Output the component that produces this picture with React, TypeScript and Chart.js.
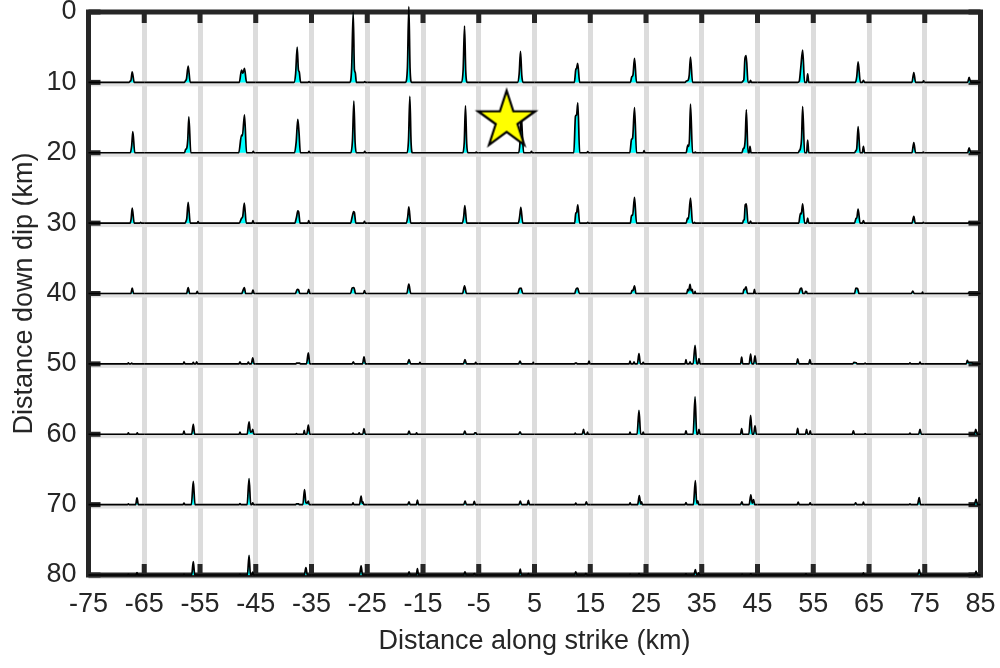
import { useEffect, useRef } from "react";
import { Chart, registerables } from "chart.js";

Chart.register(...registerables);

// Axis ticks (km)
const xTickValues = [-75, -65, -55, -45, -35, -25, -15, -5, 5, 15, 25, 35, 45, 55, 65, 75, 85];
const yTickValues = [0, 10, 20, 30, 40, 50, 60, 70, 80];
// Left edge (km along strike) of each subfault cell, and baseline depth of each row
const cellStartKm = [-75, -65, -55, -45, -35, -25, -15, -5, 5, 15, 25, 35, 45, 55, 65, 75];
const rowBaselineKm = [10, 20, 30, 40, 50, 60, 70, 80];
const hypocenter = [{ x: 0, y: 15 }];

// Source time functions: per cell, vertex list [time offset (km in cell), amplitude (km), ...]
const stfDepth10 = [
  [7.3, 0, 7.5, 0.2, 7.6, 0.25, 7.84, 1.5, 8.2, 0],
  [7.2, 0, 7.45, 0.3, 7.55, 0.4, 7.88, 2.3, 8.25, 0],
  [7.05, 0, 7.45, 1.75, 7.7, 1.3, 7.98, 2.0, 8.35, 0],
  [6.85, 0, 7.15, 1.2, 7.43, 5.0, 7.65, 1.8, 7.8, 1.5, 8.05, 0, 9.4, 0, 9.55, 0.1, 9.7, 0],
  [6.85, 0, 7.2, 2.0, 7.48, 10.0, 7.7, 1.8, 7.85, 1.4, 8.05, 0, 9.4, 0, 9.55, 0.1, 9.7, 0],
  [6.85, 0, 7.2, 2.0, 7.46, 10.75, 7.68, 2.0, 7.95, 0],
  [6.9, 0, 7.2, 1.8, 7.45, 8.0, 7.67, 1.5, 7.95, 0],
  [6.95, 0, 7.25, 1.2, 7.49, 4.4, 7.72, 1.0, 7.95, 0],
  [7.15, 0, 7.4, 1.8, 7.55, 2.0, 7.75, 2.7, 8.1, 0],
  [7.2, 0, 7.45, 0.8, 7.65, 1.0, 7.94, 3.4, 8.3, 0],
  [7.0, 0, 7.25, 0.2, 7.55, 0.3, 7.75, 1.0, 7.98, 3.6, 8.35, 0],
  [7.15, 0, 7.4, 0.2, 7.55, 0.4, 7.75, 3.4, 7.97, 3.8, 8.3, 0, 8.6, 0, 8.75, 0.3, 8.9, 0],
  [7.2, 0, 7.5, 0.2, 7.75, 2.0, 8.1, 4.6, 8.45, 0, 8.8, 0, 9.0, 1.2, 9.2, 0],
  [7.55, 0, 7.8, 0.8, 8.05, 2.9, 8.45, 0, 8.8, 0, 9.0, 0.3, 9.2, 0],
  [7.7, 0, 8.04, 1.4, 8.35, 0, 9.6, 0, 9.8, 0.2, 9.95, 0],
  [7.7, 0, 7.96, 0.7, 8.25, 0],
];
const stfDepth20 = [
  [7.5, 0, 7.75, 1.0, 7.95, 3.0, 8.3, 0],
  [7.2, 0, 7.45, 0.5, 7.6, 0.6, 7.8, 1.8, 8.0, 5.1, 8.35, 0],
  [6.95, 0, 7.45, 2.5, 7.6, 2.4, 7.98, 5.4, 8.35, 0, 9.4, 0, 9.55, 0.2, 9.7, 0],
  [6.95, 0, 7.25, 1.5, 7.54, 4.75, 7.75, 3.0, 8.0, 0, 9.4, 0, 9.55, 0.2, 9.7, 0],
  [7.05, 0, 7.35, 1.8, 7.6, 7.35, 7.82, 1.5, 8.05, 0, 9.4, 0, 9.55, 0.2, 9.7, 0],
  [7.15, 0, 7.4, 1.8, 7.64, 8.0, 7.86, 1.5, 8.1, 0],
  [7.15, 0, 7.4, 1.5, 7.62, 6.65, 7.84, 1.3, 8.05, 0, 9.4, 0, 9.55, 0.1, 9.7, 0],
  [7.15, 0, 7.4, 1.5, 7.6, 5.5, 7.8, 3.0, 8.05, 0, 9.3, 0, 9.45, 0.2, 9.6, 0],
  [7.05, 0, 7.35, 5.2, 7.55, 5.4, 7.77, 7.1, 8.1, 0, 9.4, 0, 9.55, 0.15, 9.7, 0],
  [7.1, 0, 7.4, 1.9, 7.6, 2.1, 7.94, 6.4, 8.3, 0, 9.5, 0, 9.65, 0.3, 9.8, 0],
  [7.2, 0, 7.5, 1.1, 7.65, 0.9, 7.8, 2.0, 7.98, 6.9, 8.35, 0, 8.7, 0, 8.85, 0.1, 9.0, 0],
  [7.2, 0, 7.45, 0.6, 7.6, 0.7, 7.8, 2.0, 8.0, 6.1, 8.3, 0, 8.5, 0, 8.65, 0.9, 8.85, 0],
  [7.3, 0, 7.5, 0.3, 7.7, 0.6, 7.9, 2.0, 8.1, 6.55, 8.45, 0, 8.8, 0, 9.0, 1.8, 9.2, 0],
  [7.4, 0, 7.65, 0.3, 7.8, 0.6, 8.05, 3.7, 8.4, 0, 8.8, 0, 9.0, 0.9, 9.2, 0],
  [7.7, 0, 8.04, 1.45, 8.35, 0, 9.6, 0, 9.75, 0.1, 9.9, 0],
  [7.7, 0, 7.96, 0.7, 8.25, 0],
];
const stfDepth30 = [
  [7.45, 0, 7.65, 0.6, 7.84, 2.15, 8.2, 0, 9.2, 0, 9.35, 0.1, 9.5, 0],
  [7.3, 0, 7.5, 0.3, 7.62, 0.6, 7.88, 2.95, 8.25, 0, 9.5, 0, 9.65, 0.2, 9.8, 0],
  [7.05, 0, 7.45, 0.7, 7.65, 0.9, 7.95, 2.85, 8.3, 0, 9.35, 0, 9.5, 0.35, 9.65, 0],
  [7.0, 0, 7.3, 0.8, 7.55, 1.75, 7.7, 1.6, 7.95, 0, 9.35, 0, 9.5, 0.35, 9.65, 0],
  [7.0, 0, 7.3, 0.9, 7.55, 1.65, 7.7, 1.5, 7.95, 0, 9.35, 0, 9.5, 0.25, 9.65, 0],
  [7.0, 0, 7.25, 0.8, 7.46, 2.3, 7.8, 0, 9.45, 0, 9.55, 0.05, 9.65, 0],
  [7.05, 0, 7.3, 0.9, 7.5, 2.5, 7.85, 0],
  [7.1, 0, 7.35, 1.0, 7.55, 2.25, 7.9, 0],
  [7.2, 0, 7.4, 1.4, 7.55, 1.5, 7.77, 2.6, 8.1, 0, 9.4, 0, 9.55, 0.1, 9.7, 0],
  [7.2, 0, 7.4, 1.1, 7.6, 1.1, 7.94, 3.65, 8.3, 0],
  [7.2, 0, 7.45, 0.7, 7.6, 0.6, 7.98, 3.55, 8.35, 0, 8.6, 0, 8.7, 0.1, 8.85, 0],
  [7.3, 0, 7.5, 0.4, 7.62, 0.5, 7.8, 2.6, 8.0, 2.75, 8.3, 0, 8.6, 0, 8.75, 0.3, 8.9, 0],
  [7.4, 0, 7.7, 1.4, 7.85, 1.3, 8.1, 2.75, 8.45, 0, 8.8, 0, 9.0, 0.7, 9.2, 0],
  [7.4, 0, 7.7, 0.7, 7.8, 0.7, 8.05, 2.0, 8.4, 0, 8.8, 0, 9.0, 0.35, 9.2, 0],
  [7.7, 0, 8.04, 0.95, 8.3, 0, 9.6, 0, 9.75, 0.1, 9.9, 0],
  [7.8, 0, 7.96, 0.15, 8.15, 0],
];
const stfDepth40 = [
  [7.6, 0, 7.84, 0.75, 8.1, 0],
  [7.6, 0, 7.88, 0.85, 8.15, 0, 9.3, 0, 9.5, 0.3, 9.7, 0],
  [7.5, 0, 7.65, 0.3, 7.95, 0.85, 8.2, 0, 9.3, 0, 9.5, 0.5, 9.7, 0],
  [7.1, 0, 7.45, 0.6, 7.7, 0.5, 7.9, 0, 9.25, 0, 9.5, 0.6, 9.7, 0],
  [7.0, 0, 7.3, 0.8, 7.6, 0.85, 7.9, 0, 9.3, 0, 9.5, 0.4, 9.7, 0],
  [7.1, 0, 7.46, 1.35, 7.8, 0],
  [7.1, 0, 7.45, 1.1, 7.8, 0],
  [7.0, 0, 7.3, 0.7, 7.6, 0.75, 7.9, 0],
  [7.2, 0, 7.5, 0.7, 7.75, 0.75, 8.05, 0],
  [7.3, 0, 7.5, 0.45, 7.65, 0.4, 7.94, 1.1, 8.2, 0],
  [7.3, 0, 7.5, 0.6, 7.65, 0.4, 7.9, 1.3, 8.1, 0.4, 8.3, 0.6, 8.45, 0, 8.7, 0, 8.8, 0.3, 8.9, 0],
  [7.4, 0, 7.55, 0.6, 7.65, 0.5, 7.95, 0.95, 8.2, 0, 9.3, 0, 9.45, 0.6, 9.6, 0],
  [7.4, 0, 7.7, 0.7, 7.9, 0.75, 8.15, 0, 8.5, 0, 8.6, 0.3, 8.8, 0.25, 8.9, 0],
  [7.4, 0, 7.65, 0.75, 7.95, 0.7, 8.2, 0],
  [7.6, 0, 7.85, 0.35, 8.1, 0, 9.5, 0, 9.6, 0.2, 9.7, 0],
  [7.7, 0, 7.9, 0.1, 8.1, 0],
];
const stfDepth50 = [
  [7.0, 0, 7.15, 0.15, 7.3, 0, 7.6, 0, 7.75, 0.1, 7.9, 0],
  [7.0, 0, 7.13, 0.3, 7.3, 0, 8.65, 0, 8.8, 0.2, 8.95, 0, 9.25, 0, 9.4, 0.3, 9.55, 0],
  [7.0, 0, 7.17, 0.3, 7.35, 0, 8.5, 0, 8.67, 0.25, 8.85, 0, 9.2, 0, 9.46, 0.85, 9.7, 0],
  [7.2, 0, 7.3, 0.1, 7.9, 0.1, 8.0, 0, 9.1, 0, 9.43, 1.55, 9.7, 0],
  [7.3, 0, 7.5, 0.3, 7.7, 0, 9.15, 0, 9.42, 1.0, 9.68, 0],
  [7.2, 0, 7.49, 0.6, 7.8, 0, 9.3, 0, 9.46, 0.2, 9.6, 0],
  [7.25, 0, 7.53, 0.6, 7.8, 0, 9.3, 0, 9.45, 0.2, 9.6, 0],
  [7.15, 0, 7.4, 0.4, 7.65, 0, 9.65, 0, 9.78, 0.2, 9.9, 0],
  [7.2, 0, 7.3, 0.1, 7.55, 0.1, 7.65, 0, 9.6, 0, 9.78, 0.4, 9.95, 0],
  [7.0, 0, 7.13, 0.4, 7.3, 0, 7.7, 0, 7.85, 0.3, 8.0, 0, 8.45, 0, 8.74, 1.45, 9.0, 0, 9.35, 0, 9.5, 0.2, 9.65, 0],
  [7.0, 0, 7.17, 0.6, 7.35, 0, 7.75, 0, 7.9, 0.3, 8.05, 0, 8.45, 0, 8.8, 2.65, 9.1, 0, 9.3, 0, 9.5, 0.75, 9.7, 0],
  [6.95, 0, 7.16, 0.95, 7.35, 0, 8.5, 0, 8.77, 1.4, 9.0, 0, 9.3, 0, 9.55, 1.15, 9.8, 0],
  [7.0, 0, 7.2, 0.7, 7.45, 0, 9.2, 0, 9.4, 0.6, 9.6, 0],
  [7.1, 0, 7.3, 0.2, 7.7, 0.15, 7.85, 0, 9.15, 0, 9.3, 0.1, 9.45, 0],
  [7.2, 0, 7.35, 0.15, 7.5, 0, 9.0, 0, 9.15, 0.25, 9.3, 0],
  [7.45, 0, 7.64, 0.5, 7.85, 0.15, 8.5, 0.15, 8.6, 0],
];
const stfDepth60 = [
  [7.0, 0, 7.15, 0.2, 7.3, 0, 8.6, 0, 8.75, 0.2, 8.9, 0],
  [6.95, 0, 7.13, 0.45, 7.3, 0, 8.5, 0, 8.8, 1.4, 9.05, 0],
  [7.0, 0, 7.17, 0.3, 7.35, 0, 8.45, 0, 8.8, 1.75, 9.05, 0.3, 9.3, 0.4, 9.46, 0.7, 9.65, 0],
  [7.2, 0, 7.3, 0.1, 7.45, 0, 8.55, 0, 8.7, 0.55, 8.85, 0, 9.15, 0, 9.43, 1.3, 9.7, 0],
  [7.3, 0, 7.45, 0.15, 7.6, 0, 8.4, 0, 8.55, 0.2, 8.7, 0, 9.2, 0, 9.42, 0.8, 9.65, 0],
  [7.25, 0, 7.49, 0.45, 7.75, 0, 8.7, 0, 8.85, 0.2, 9.0, 0],
  [7.25, 0, 7.5, 0.45, 7.75, 0, 9.15, 0, 9.3, 0.2, 9.5, 0.2, 9.6, 0],
  [7.15, 0, 7.4, 0.35, 7.65, 0],
  [7.2, 0, 7.3, 0.15, 7.45, 0, 8.55, 0, 8.8, 0.7, 9.0, 0, 9.4, 0, 9.5, 0.3, 9.65, 0],
  [7.0, 0, 7.13, 0.3, 7.3, 0, 8.4, 0, 8.74, 3.4, 9.05, 0, 9.35, 0, 9.5, 0.3, 9.65, 0],
  [7.0, 0, 7.17, 0.5, 7.35, 0, 8.45, 0, 8.8, 5.3, 9.1, 0, 9.3, 0, 9.5, 0.7, 9.7, 0],
  [6.95, 0, 7.16, 0.8, 7.35, 0, 8.45, 0, 8.77, 2.7, 9.05, 0, 9.3, 0, 9.55, 1.2, 9.8, 0],
  [7.0, 0, 7.2, 0.85, 7.4, 0, 8.6, 0, 8.8, 0.7, 9.0, 0, 9.3, 0, 9.45, 0.5, 9.6, 0],
  [7.0, 0, 7.2, 0.5, 7.4, 0, 9.2, 0, 9.3, 0.1, 9.45, 0],
  [7.2, 0, 7.35, 0.15, 7.5, 0, 8.9, 0, 9.15, 0.7, 9.4, 0],
  [8.9, 0, 9.15, 0.7, 9.4, 0],
];
const stfDepth70 = [
  [7.0, 0, 7.15, 0.1, 7.3, 0, 8.45, 0, 8.7, 0.95, 8.95, 0],
  [6.95, 0, 7.13, 0.2, 7.3, 0, 8.45, 0, 8.8, 3.3, 9.1, 0],
  [7.0, 0, 7.17, 0.15, 7.35, 0, 8.45, 0, 8.8, 3.7, 9.1, 0, 9.3, 0, 9.46, 0.25, 9.6, 0],
  [7.1, 0, 7.3, 0.1, 7.7, 0.1, 7.8, 0, 8.45, 0, 8.75, 2.15, 9.0, 0.3, 9.2, 0.2, 9.43, 0.5, 9.6, 0],
  [7.3, 0, 7.45, 0.25, 7.6, 0, 8.6, 0, 8.9, 1.2, 9.1, 0.2, 9.22, 0.4, 9.38, 0],
  [7.25, 0, 7.49, 0.4, 7.7, 0, 8.8, 0, 9.0, 0.65, 9.2, 0],
  [7.3, 0, 7.55, 0.5, 7.8, 0, 9.0, 0, 9.2, 0.45, 9.4, 0],
  [7.2, 0, 7.45, 0.5, 7.7, 0, 8.7, 0, 8.9, 0.6, 9.1, 0],
  [7.25, 0, 7.4, 0.2, 7.55, 0, 9.1, 0, 9.3, 0.4, 9.5, 0],
  [7.0, 0, 7.15, 0.25, 7.3, 0, 8.5, 0, 8.8, 1.3, 9.05, 0.1, 9.2, 0.4, 9.35, 0],
  [7.0, 0, 7.17, 0.3, 7.35, 0, 8.5, 0, 8.85, 3.4, 9.1, 0.2, 9.3, 0.55, 9.45, 0],
  [6.95, 0, 7.2, 0.4, 7.4, 0, 8.5, 0, 8.8, 1.4, 9.05, 0.2, 9.3, 0.7, 9.5, 0],
  [7.1, 0, 7.3, 0.35, 7.5, 0, 9.25, 0, 9.45, 0.25, 9.6, 0],
  [7.4, 0, 7.6, 0.25, 7.8, 0, 8.85, 0, 9.0, 0.35, 9.15, 0],
  [7.2, 0, 7.35, 0.1, 7.5, 0, 8.7, 0, 9.0, 1.0, 9.25, 0],
  [8.9, 0, 9.2, 0.75, 9.45, 0],
];
const stfDepth80 = [
  [7.0, 0, 7.15, 0.1, 7.3, 0, 8.55, 0, 8.7, 0.35, 8.85, 0],
  [7.0, 0, 7.13, 0.1, 7.3, 0, 8.5, 0, 8.8, 1.9, 9.05, 0],
  [7.0, 0, 7.17, 0.1, 7.35, 0, 8.5, 0, 8.8, 2.8, 9.05, 0, 9.3, 0, 9.46, 0.4, 9.6, 0],
  [8.7, 0, 9.0, 1.05, 9.25, 0],
  [8.6, 0, 8.9, 1.3, 9.15, 0],
  [7.3, 0, 7.5, 0.45, 7.7, 0, 8.8, 0, 9.0, 0.9, 9.2, 0],
  [7.3, 0, 7.53, 0.45, 7.75, 0, 9.0, 0, 9.2, 0.2, 9.4, 0],
  [7.2, 0, 7.45, 0.85, 7.65, 0, 8.75, 0, 8.9, 0.2, 9.05, 0],
  [7.2, 0, 7.4, 0.45, 7.6, 0, 9.0, 0, 9.2, 0.2, 9.4, 0],
  [7.0, 0, 7.15, 0.1, 7.3, 0, 8.6, 0, 8.75, 0.2, 8.9, 0],
  [7.0, 0, 7.17, 0.15, 7.35, 0, 8.6, 0, 8.85, 0.75, 9.1, 0, 9.3, 0, 9.45, 0.3, 9.6, 0],
  [7.1, 0, 7.25, 0.1, 7.4, 0, 8.6, 0, 8.8, 0.15, 9.0, 0],
  [8.5, 0, 8.7, 0.15, 8.9, 0],
  [8.85, 0, 9.0, 0.3, 9.15, 0],
  [8.75, 0, 9.0, 0.75, 9.25, 0],
  [9.0, 0, 9.2, 0.55, 9.4, 0],
];
const stfRows = [stfDepth10, stfDepth20, stfDepth30, stfDepth40, stfDepth50, stfDepth60, stfDepth70, stfDepth80];

const AXIS_COLOR = "#262626";
const FONT_FAMILY = "'Liberation Sans', Arial, Helvetica, sans-serif";

function makeStar(): HTMLCanvasElement {
  const size = 68;
  const c = document.createElement("canvas");
  c.width = size;
  c.height = size;
  const g = c.getContext("2d")!;
  const cx = size / 2;
  const cy = size / 2 + 3;
  const R = 30;
  const r = R * 0.382;
  g.beginPath();
  for (let i = 0; i < 10; i++) {
    const ang = -Math.PI / 2 + (i * Math.PI) / 5;
    const rad = i % 2 === 0 ? R : r;
    const px = cx + rad * Math.cos(ang);
    const py = cy + rad * Math.sin(ang);
    if (i === 0) g.moveTo(px, py);
    else g.lineTo(px, py);
  }
  g.closePath();
  g.fillStyle = "#ffff00";
  g.fill();
  g.lineWidth = 2.2;
  g.lineJoin = "miter";
  g.strokeStyle = "#000000";
  g.stroke();
  return c;
}

const framePlugin = {
  id: "framePlugin",
  beforeDatasetsDraw(chart: any) {
    const { ctx, chartArea } = chart;
    const { left, right, top, bottom } = chartArea;
    const xs = chart.scales.x;
    const ys = chart.scales.y;
    ctx.save();
    // light grey bands under each baseline
    ctx.fillStyle = "#e2e2e2";
    rowBaselineKm.forEach((v) => {
      const py = ys.getPixelForValue(v);
      ctx.fillRect(left, py - 1, right - left, 5);
    });
    // frame
    ctx.strokeStyle = AXIS_COLOR;
    ctx.lineWidth = 5;
    ctx.strokeRect(left, top, right - left, bottom - top);
    // inward tick marks
    ctx.fillStyle = AXIS_COLOR;
    xTickValues.forEach((v) => {
      const px = xs.getPixelForValue(v);
      ctx.fillRect(px - 2.5, top, 5, 11);
      ctx.fillRect(px - 2.5, bottom - 11, 5, 11);
    });
    yTickValues.forEach((v) => {
      const py = ys.getPixelForValue(v);
      ctx.fillRect(left, py - 2.5, 12, 5);
      ctx.fillRect(right - 12, py - 2.5, 12, 5);
    });
    ctx.restore();
  },
};

export default function App() {
  const canvasRef = useRef<HTMLCanvasElement | null>(null);

  useEffect(() => {
    if (!canvasRef.current) return;
    const datasets: any[] = [];
    datasets.push({
      type: "scatter",
      data: hypocenter,
      pointStyle: makeStar(),
      pointRadius: 30,
      order: -1,
      clip: false,
    });
    stfRows.forEach((row, r) => {
      const base = rowBaselineKm[r];
      row.forEach((verts, c) => {
        const x0 = cellStartKm[c];
        const pts: { x: number; y: number }[] = [{ x: x0, y: base }];
        for (let i = 0; i < verts.length; i += 2) {
          pts.push({ x: x0 + verts[i], y: base - verts[i + 1] });
        }
        pts.push({ x: x0 + 10, y: base });
        datasets.push({
          type: "line",
          data: pts,
          borderColor: "#000000",
          borderWidth: 1.7,
          borderJoinStyle: "round",
          backgroundColor: "#00ffff",
          fill: { value: base },
          pointRadius: 0,
          cubicInterpolationMode: "monotone",
          clip: false,
          order: 1,
        });
      });
    });

    const tickFont = { family: FONT_FAMILY, size: 27 };
    const chart = new Chart(canvasRef.current, {
      type: "line",
      data: { datasets },
      plugins: [framePlugin],
      options: {
        responsive: true,
        maintainAspectRatio: false,
        animation: false,
        parsing: false as any,
        normalized: true,
        layout: { autoPadding: false, padding: { left: 0, top: 12, right: 19.5, bottom: 0 } },
        plugins: {
          legend: { display: false },
          tooltip: { enabled: false },
        },
        scales: {
          x: {
            type: "linear",
            position: "bottom",
            min: -75,
            max: 85,
            afterBuildTicks: (s: any) => {
              s.ticks = xTickValues.map((v) => ({ value: v }));
            },
            afterFit: (s: any) => {
              s.height = 93;
              s.paddingLeft = 0;
              s.paddingRight = 0;
            },
            ticks: {
              autoSkip: false,
              maxRotation: 0,
              minRotation: 0,
              padding: 13,
              color: AXIS_COLOR,
              font: tickFont,
              callback: (v: any) => String(v),
            },
            grid: { color: "#dcdcdc", lineWidth: 5, drawTicks: false },
            border: { display: false },
            title: {
              display: true,
              text: "Distance along strike (km)",
              color: AXIS_COLOR,
              font: tickFont,
              padding: { top: 0, bottom: 10 },
            },
          },
          y: {
            type: "linear",
            reverse: true,
            min: 0,
            max: 80,
            afterBuildTicks: (s: any) => {
              s.ticks = yTickValues.map((v) => ({ value: v }));
            },
            afterFit: (s: any) => {
              s.width = 88.5;
              s.paddingTop = 0;
              s.paddingBottom = 0;
            },
            ticks: {
              autoSkip: false,
              padding: 12,
              color: AXIS_COLOR,
              font: tickFont,
              callback: (v: any) => String(v),
            },
            grid: { display: false, drawTicks: false },
            border: { display: false },
            title: {
              display: true,
              text: "Distance down dip (km)",
              color: AXIS_COLOR,
              font: tickFont,
              padding: { top: 8, bottom: 0 },
            },
          },
        },
      },
    });
    return () => chart.destroy();
  }, []);

  return (
    <div style={{ position: "fixed", left: 0, top: 0, width: 1000, height: 668, background: "#ffffff" }}>
      <canvas ref={canvasRef} />
    </div>
  );
}
